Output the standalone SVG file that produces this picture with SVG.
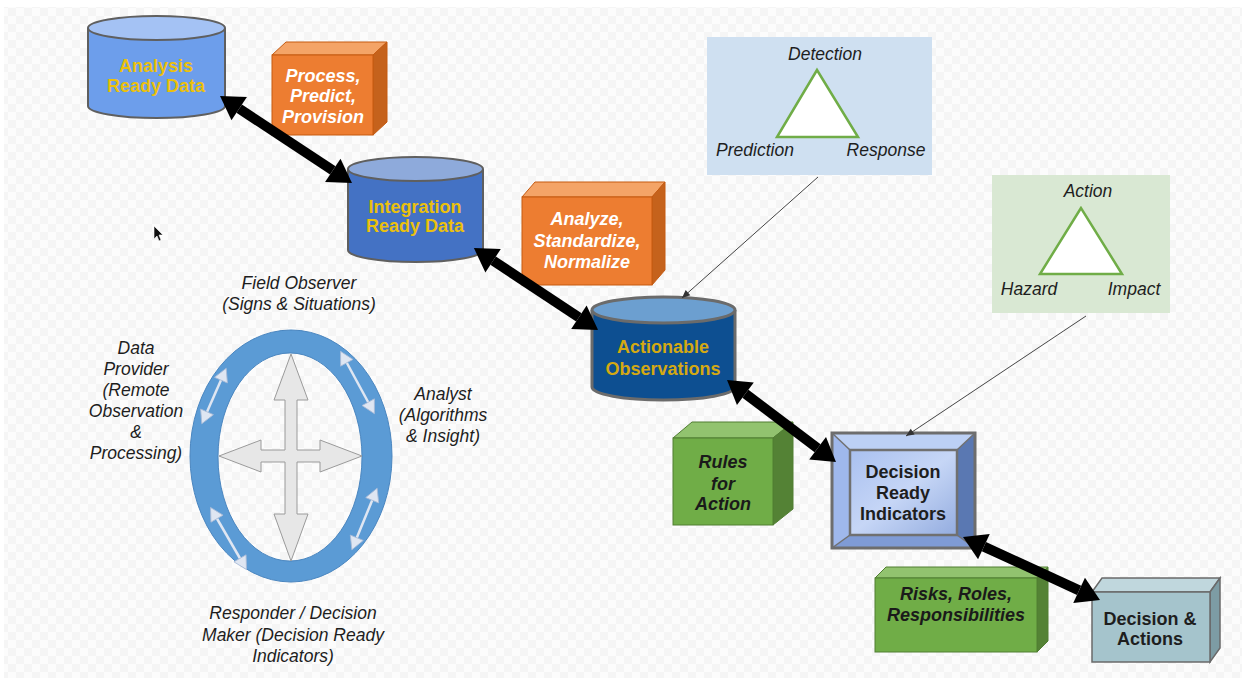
<svg xmlns="http://www.w3.org/2000/svg" width="1248" height="681" viewBox="0 0 1248 681">
<defs>
<pattern id="chk" width="16" height="16" patternUnits="userSpaceOnUse">
<rect width="16" height="16" fill="#fcfcfc"/>
<rect width="8" height="8" fill="#f5f5f5"/>
<rect x="8" y="8" width="8" height="8" fill="#f5f5f5"/>
</pattern>
<marker id="bh" markerUnits="userSpaceOnUse" markerWidth="30" markerHeight="30" refX="0" refY="0" orient="auto-start-reverse" overflow="visible">
<path d="M0,-14 L23,0 L0,14 z" fill="#000"/>
</marker>
<marker id="sh" markerUnits="userSpaceOnUse" markerWidth="20" markerHeight="20" refX="10" refY="0" orient="auto-start-reverse" overflow="visible">
<path d="M0,-7 L13,0 L0,7 z" fill="#dfe6f2" stroke="#a9bbd6" stroke-width="0.8"/>
</marker>
<marker id="th" markerUnits="userSpaceOnUse" markerWidth="12" markerHeight="12" refX="8" refY="0" orient="auto" overflow="visible">
<path d="M0,-3.5 L8,0 L0,3.5 z" fill="#333"/>
</marker>
<linearGradient id="dri" x1="0" y1="0" x2="1" y2="1">
<stop offset="0" stop-color="#a9c0f0"/>
<stop offset="0.5" stop-color="#c6d6f6"/>
<stop offset="1" stop-color="#93acdf"/>
</linearGradient>
</defs>
<style>
.lbl{font-family:"Liberation Sans",Arial,sans-serif;font-size:18px;font-weight:bold;text-anchor:middle}
.gold{fill:#ebc00c}
.gold2{fill:#d4a912}
.wi{fill:#fff;font-style:italic}
.dki{fill:#1a1a1a;font-style:italic}
.dk{fill:#1e1e1e}
.it{font-family:"Liberation Sans",Arial,sans-serif;font-size:17.5px;font-style:italic;fill:#1e1e1e;text-anchor:middle}
.cyl{stroke:#5f5f5f;stroke-width:2}
.big{stroke:#000;stroke-width:10;fill:none;marker-start:url(#bh);marker-end:url(#bh)}
.thin{stroke:#444;stroke-width:1;fill:none;marker-end:url(#th)}
.sm{stroke:#dfe6f2;stroke-width:2.5;fill:none;marker-start:url(#sh);marker-end:url(#sh)}
.tri{fill:#fff;stroke:#70ad47;stroke-width:2.5}
</style>

<rect x="0" y="0" width="1248" height="681" fill="#fff"/>
<rect x="4" y="7" width="1238" height="671" fill="url(#chk)"/>

<!-- cursor -->
<path d="M154,226 L154,239 L157,236 L159,241 L161,240 L159,235 L163,235 z" fill="#111" stroke="#fff" stroke-width="0.6"/>

<g id="analysis-ready-data">
<path class="cyl" d="M88,28 L88,106 A68.5,12 0 0 0 225,106 L225,28" fill="#6d9eeb"/>
<ellipse class="cyl" cx="156.5" cy="28" rx="68.5" ry="12" fill="#a4c2f4"/>
<text class="lbl gold" x="156" y="72">Analysis</text>
<text class="lbl gold" x="156" y="92">Ready Data</text>
</g>

<g id="process-box">
<path d="M272,55 L286,42 L387,42 L373,55 z" fill="#f4a467" stroke="#c55a11" stroke-width="1"/>
<path d="M373,55 L387,42 L387,122 L373,135 z" fill="#c5621c" stroke="#c55a11" stroke-width="1"/>
<rect x="272" y="55" width="101" height="80" fill="#ed7d31" stroke="#c55a11" stroke-width="1"/>
<text class="lbl wi" x="323" y="82">Process,</text>
<text class="lbl wi" x="323" y="102">Predict,</text>
<text class="lbl wi" x="323" y="123">Provision</text>
</g>

<g id="integration-ready-data">
<path class="cyl" d="M348,169 L348,250 A67.5,12 0 0 0 483,250 L483,169" fill="#4472c4"/>
<ellipse class="cyl" cx="415.5" cy="169" rx="67.5" ry="12" fill="#8eaadb"/>
<text class="lbl gold" x="415" y="213">Integration</text>
<text class="lbl gold" x="415" y="232">Ready Data</text>
</g>

<g id="analyze-box">
<path d="M522,197 L535,182 L665,182 L652,197 z" fill="#f4a467" stroke="#c55a11" stroke-width="1"/>
<path d="M652,197 L665,182 L665,270 L652,285 z" fill="#c5621c" stroke="#c55a11" stroke-width="1"/>
<rect x="522" y="197" width="130" height="88" fill="#ed7d31" stroke="#c55a11" stroke-width="1"/>
<text class="lbl wi" x="587" y="225">Analyze,</text>
<text class="lbl wi" x="587" y="247">Standardize,</text>
<text class="lbl wi" x="587" y="268">Normalize</text>
</g>

<g id="actionable-observations">
<path d="M592,310 L592,387 A71.5,13 0 0 0 735,387 L735,310" fill="#0d4f91" stroke="#6b6b6b" stroke-width="3"/>
<ellipse cx="663.5" cy="310" rx="71.5" ry="13" fill="#6c9fd0" stroke="#6b6b6b" stroke-width="3"/>
<text class="lbl gold2" x="663" y="353">Actionable</text>
<text class="lbl gold2" x="663" y="375">Observations</text>
</g>

<g id="detection-triangle">
<rect x="707" y="37" width="225" height="138" fill="#cfe0f1"/>
<polygon class="tri" points="817,70 777,137 858,137"/>
<text class="it" x="825" y="60">Detection</text>
<text class="it" x="755" y="156">Prediction</text>
<text class="it" x="886" y="156">Response</text>
</g>

<g id="action-triangle">
<rect x="992" y="175" width="178" height="138" fill="#d9e8d3"/>
<polygon class="tri" points="1081,208 1040,274 1122,274"/>
<text class="it" x="1088" y="197">Action</text>
<text class="it" x="1029" y="295">Hazard</text>
<text class="it" x="1134" y="295">Impact</text>
</g>

<g id="rules-for-action">
<path d="M673,438 L692,422 L793,422 L773,438 z" fill="#92c36f" stroke="#507e32" stroke-width="1"/>
<path d="M773,438 L793,422 L793,509 L773,525 z" fill="#548235" stroke="#507e32" stroke-width="1"/>
<rect x="673" y="438" width="100" height="87" fill="#70ad47" stroke="#507e32" stroke-width="1"/>
<text class="lbl dki" x="723" y="468">Rules</text>
<text class="lbl dki" x="723" y="490">for</text>
<text class="lbl dki" x="723" y="510">Action</text>
</g>

<g id="decision-ready-indicators">
<polygon points="832,433 975,433 957,450 850,450" fill="#bcd0f5"/>
<polygon points="832,433 850,450 850,535 832,548" fill="#9fb8ec"/>
<polygon points="975,433 975,548 957,535 957,450" fill="#5a78b2"/>
<polygon points="832,548 850,535 957,535 975,548" fill="#7f9bd5"/>
<rect x="850" y="450" width="107" height="85" fill="url(#dri)" stroke="#707070" stroke-width="2.5"/>
<rect x="832" y="433" width="143" height="115" fill="none" stroke="#6d6d6d" stroke-width="3"/>
<line x1="832" y1="433" x2="850" y2="450" stroke="#707070" stroke-width="1.5"/>
<line x1="975" y1="433" x2="957" y2="450" stroke="#707070" stroke-width="1.5"/>
<line x1="832" y1="548" x2="850" y2="535" stroke="#707070" stroke-width="1.5"/>
<line x1="975" y1="548" x2="957" y2="535" stroke="#707070" stroke-width="1.5"/>
<text class="lbl dk" x="903" y="478">Decision</text>
<text class="lbl dk" x="903" y="499">Ready</text>
<text class="lbl dk" x="903" y="520">Indicators</text>
</g>

<g id="risks-roles">
<path d="M875,578 L886,567 L1048,567 L1037,578 z" fill="#92c36f" stroke="#507e32" stroke-width="1"/>
<path d="M1037,578 L1048,567 L1048,641 L1037,652 z" fill="#548235" stroke="#507e32" stroke-width="1"/>
<rect x="875" y="578" width="162" height="74" fill="#70ad47" stroke="#507e32" stroke-width="1"/>
<text class="lbl dki" x="956" y="600">Risks, Roles,</text>
<text class="lbl dki" x="956" y="621">Responsibilities</text>
</g>

<g id="decision-actions">
<path d="M1092,592 L1102,578 L1220,578 L1210,592 z" fill="#c0d7dd" stroke="#6a6a6a" stroke-width="1.5"/>
<path d="M1210,592 L1220,578 L1220,648 L1210,662 z" fill="#7d9ca4" stroke="#6a6a6a" stroke-width="1.5"/>
<rect x="1092" y="592" width="118" height="70" fill="#a5c4cc" stroke="#6a6a6a" stroke-width="1.5"/>
<text class="lbl dk" x="1150" y="625">Decision &amp;</text>
<text class="lbl dk" x="1150" y="645">Actions</text>
</g>

<g id="cycle">
<path d="M190,456 A101,126 0 1 0 392,456 A101,126 0 1 0 190,456 z M218,457 A72,104 0 1 1 362,457 A72,104 0 1 1 218,457 z" fill="#5b9bd5" fill-rule="evenodd" stroke="#4a86c0" stroke-width="1"/>
<polygon points="291,354 308,400 297,400 297,450 320,450 320,440 362,456 320,472 320,462 297,462 297,514 308,514 291,561 274,514 285,514 285,462 261,462 261,472 219,456 261,440 261,450 285,450 285,400 274,400" fill="#e7e7e7" stroke="#9a9a9a" stroke-width="1"/>
<line class="sm" x1="225" y1="371" x2="203" y2="421"/>
<line class="sm" x1="342" y1="354" x2="373" y2="411"/>
<line class="sm" x1="212" y1="510" x2="245" y2="567"/>
<line class="sm" x1="376" y1="491" x2="353" y2="547"/>
<text class="it" x="299" y="289">Field Observer</text>
<text class="it" x="299" y="310">(Signs &amp; Situations)</text>
<text class="it" x="136" y="354">Data</text>
<text class="it" x="136" y="375">Provider</text>
<text class="it" x="136" y="396">(Remote</text>
<text class="it" x="136" y="417">Observation</text>
<text class="it" x="136" y="438">&amp;</text>
<text class="it" x="136" y="459">Processing)</text>
<text class="it" x="443" y="400">Analyst</text>
<text class="it" x="443" y="421">(Algorithms</text>
<text class="it" x="443" y="442">&amp; Insight)</text>
<text class="it" x="293" y="619">Responder / Decision</text>
<text class="it" x="293" y="641">Maker (Decision Ready</text>
<text class="it" x="293" y="662">Indicators)</text>
</g>

<g id="connectors">
<line class="big" x1="239.2" y1="108.6" x2="332.8" y2="170.4"/>
<line class="big" x1="493.1" y1="260.7" x2="578.9" y2="317.3"/>
<line class="big" x1="745.4" y1="393.8" x2="817.6" y2="448.2"/>
<line class="big" x1="983.9" y1="546.6" x2="1079.1" y2="590.4"/>
<line class="thin" x1="818" y1="177" x2="682" y2="298"/>
<line class="thin" x1="1086" y1="316" x2="906" y2="436"/>
</g>
</svg>
